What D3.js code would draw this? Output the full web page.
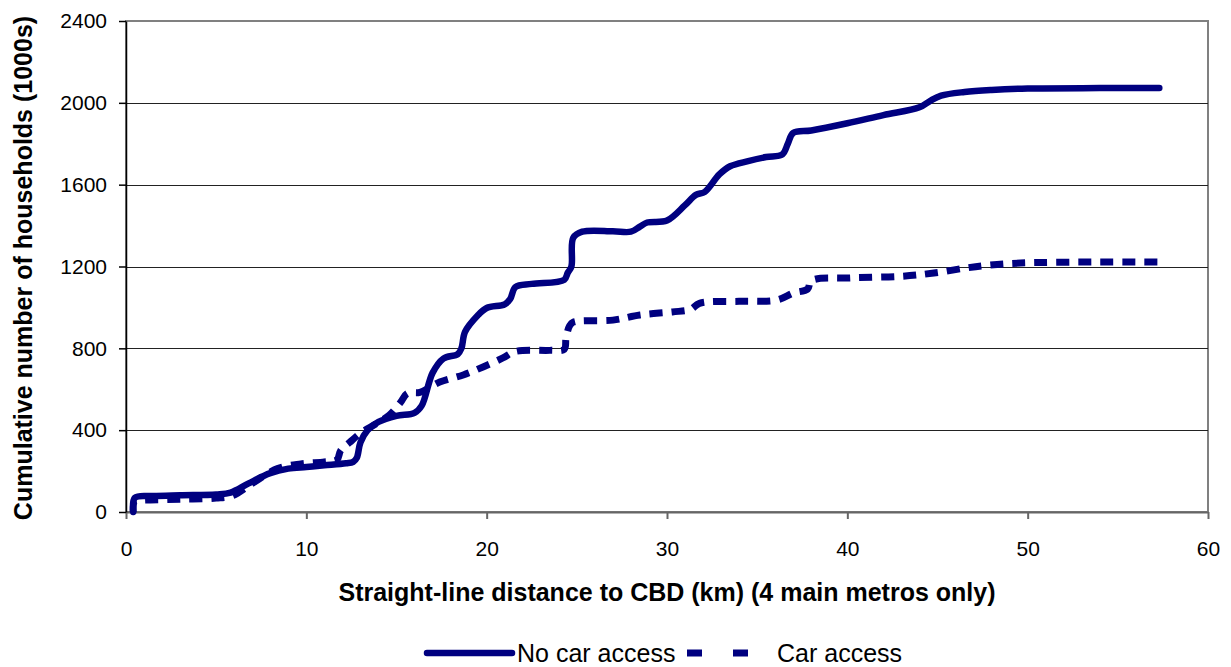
<!DOCTYPE html>
<html>
<head>
<meta charset="utf-8">
<script src="https://cdn.jsdelivr.net/npm/d3@7"></script>
<style>
  body { margin: 0; background: #fff; overflow: hidden; }
  svg { display: block; }
  text { font-family: Arial, "Liberation Sans", sans-serif; fill: #000; }
</style>
</head>
<body>
<svg id="chart"></svg>
<script>
// distance to CBD (km) and cumulative households (1000s)
const noCarKm = [0.4, 0.5, 1.5, 3, 5, 5.8, 6.8, 8.0, 9.0, 10, 11, 12.2, 12.6, 12.8, 13.0, 13.4, 14.0, 15, 16.0, 16.4,
  17.0, 17.6, 18.4, 18.6, 18.8, 19.5, 20.0, 21.0, 21.3, 21.6, 22.5, 24.3, 24.5, 24.7, 24.8, 25.3, 27.0, 28.0, 28.5, 28.9,
  30.0, 31.0, 31.6, 32.1, 32.9, 33.5, 34.5, 35.5, 36.4, 36.7, 37.0, 38.0, 40, 42, 44.0, 44.6, 45.2, 46.5, 48, 50, 54, 57.3];
const noCarVal = [0, 70, 78, 82, 86, 95, 140, 190, 212, 220, 228, 238, 245, 265, 340, 400, 440, 470, 485, 520,
  680, 750, 772, 800, 880, 960, 997, 1015, 1040, 1100, 1115, 1135, 1170, 1200, 1340, 1370, 1372, 1370, 1395, 1415,
  1425, 1500, 1550, 1565, 1650, 1690, 1715, 1735, 1748, 1800, 1853, 1865, 1900, 1940, 1978, 2010, 2035, 2053, 2063, 2070, 2072, 2072];

const carKm = [0.4, 0.5, 1, 3, 5, 5.9, 7.0, 8.4, 9.7, 11.0, 11.7, 11.9, 12.4, 13.0, 13.9, 14.6, 15.2, 15.6, 16.3, 17.4,
  18.7, 19.8, 20.9, 21.6, 23.5, 24.3, 24.4, 24.6, 24.8, 27.0, 28.5, 30.3, 31.3, 31.8, 34.0, 36.1, 37.0, 37.8, 38.0, 40.2,
  43, 44.8, 46.6, 47.9, 49.6, 54.0, 57.2];
const carVal = [0, 55, 58, 62, 68, 80, 140, 212, 235, 245, 255, 300, 340, 385, 433, 474, 533, 580, 585, 635,
  670, 709, 753, 785, 790, 795, 850, 910, 928, 938, 963, 978, 990, 1020, 1030, 1036, 1070, 1090, 1130, 1144,
  1152, 1168, 1193, 1207, 1217, 1222, 1222];

const seriesNames = ["No car access", "Car access"];
const xTicks = [0, 10, 20, 30, 40, 50, 60];
const yTicks = [0, 400, 800, 1200, 1600, 2000, 2400];

const width = 1231;
const height = 667;
const margin = { top: 21, right: 23, bottom: 155, left: 126 };
const innerWidth = width - margin.left - margin.right;
const innerHeight = height - margin.top - margin.bottom;
const navy = "#000080";

const svg = d3.select("#chart")
    .attr("width", width)
    .attr("height", height);

const g = svg.append("g")
    .attr("transform", `translate(${margin.left},${margin.top})`);

const xScale = d3.scaleLinear().domain([0, 60]).range([0, innerWidth]);
const yScale = d3.scaleLinear().domain([0, 2400]).range([innerHeight, 0]);

// plot area border
g.append("rect")
    .attr("width", innerWidth)
    .attr("height", innerHeight)
    .attr("fill", "none")
    .attr("stroke", "#808080")
    .attr("stroke-width", 2);

// gridlines
g.append("g")
    .selectAll("line")
    .data(yTicks.slice(1, -1))
    .enter()
    .append("line")
    .attr("x1", 0)
    .attr("x2", innerWidth)
    .attr("y1", d => Math.round(yScale(d)) + 0.5)
    .attr("y2", d => Math.round(yScale(d)) + 0.5)
    .attr("stroke", "#222")
    .attr("stroke-width", 1);

const xAxis = d3.axisBottom(xScale).tickValues(xTicks).tickSizeInner(7).tickSizeOuter(0).tickPadding(22);
const yAxis = d3.axisLeft(yScale).tickValues(yTicks).tickFormat(d3.format("d"))
    .tickSizeInner(7).tickSizeOuter(0).tickPadding(12);

g.append("g")
    .attr("class", "x-axis")
    .attr("transform", `translate(0,${innerHeight})`)
    .call(xAxis);

g.append("g")
    .attr("class", "y-axis")
    .call(yAxis);

g.selectAll(".x-axis text, .y-axis text")
    .attr("font-size", 21)
    .attr("font-family", "Arial, 'Liberation Sans', sans-serif")
    .attr("fill", "#000");
g.selectAll(".x-axis path, .x-axis line")
    .attr("stroke", "#666")
    .attr("stroke-width", 2);
g.selectAll(".y-axis path, .y-axis line")
    .attr("stroke", "#000")
    .attr("stroke-width", 1.5);

const line = d3.line()
    .x(d => xScale(d[0]))
    .y(d => yScale(d[1]))
    .curve(d3.curveCatmullRom.alpha(0.5));

g.append("path")
    .datum(carKm.map((k, i) => [k, carVal[i]]))
    .attr("d", line)
    .attr("fill", "none")
    .attr("stroke", navy)
    .attr("stroke-width", 7)
    .attr("stroke-dasharray", "13,9");

g.append("path")
    .datum(noCarKm.map((k, i) => [k, noCarVal[i]]))
    .attr("d", line)
    .attr("fill", "none")
    .attr("stroke", navy)
    .attr("stroke-width", 6.5)
    .attr("stroke-linecap", "round")
    .attr("stroke-linejoin", "round");

// axis titles
svg.append("text")
    .attr("x", 667)
    .attr("y", 601)
    .attr("text-anchor", "middle")
    .attr("font-size", 25)
    .attr("font-weight", "bold")
    .text("Straight-line distance to CBD (km) (4 main metros only)");

svg.append("text")
    .attr("transform", "translate(32,268) rotate(-90)")
    .attr("text-anchor", "middle")
    .attr("font-size", 25)
    .attr("font-weight", "bold")
    .text("Cumulative number of households (1000s)");

// legend
const legend = svg.append("g").attr("transform", "translate(427,653)");
legend.append("line")
    .attr("x1", 0).attr("x2", 85)
    .attr("stroke", navy).attr("stroke-width", 6.5)
    .attr("stroke-linecap", "round");
legend.append("text")
    .attr("x", 90).attr("y", 9)
    .attr("font-size", 25)
    .text(seriesNames[0]);
legend.append("line")
    .attr("x1", 260).attr("x2", 345)
    .attr("stroke", navy).attr("stroke-width", 7)
    .attr("stroke-dasharray", "15,31");
legend.append("text")
    .attr("x", 350).attr("y", 9)
    .attr("font-size", 25)
    .text(seriesNames[1]);
</script>
</body>
</html>
